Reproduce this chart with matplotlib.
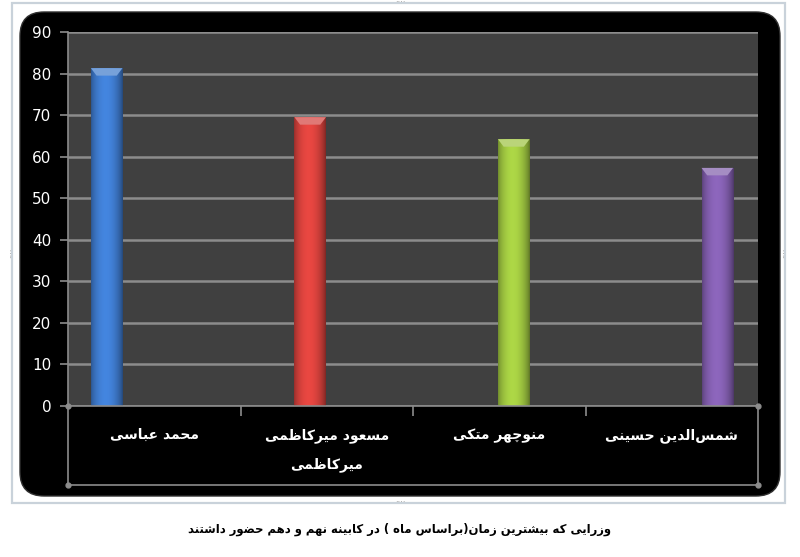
import numpy as np
import matplotlib
matplotlib.use('Agg')
import matplotlib.pyplot as plt
from matplotlib.patches import FancyBboxPatch, Rectangle, Polygon
from matplotlib.colors import to_rgb

# data (months in office)
ministers = ['محمد عباسی', 'مسعود میرکاظمی\nمیرکاظمی', 'منوچهر متکی', 'شمس\u200cالدین حسینی']
months = [81.3, 69.5, 64.2, 57.3]
bar_colors = ['#3d78c9', '#d2403b', '#9cc23f', '#7f5caa']
yticks = [0, 10, 20, 30, 40, 50, 60, 70, 80, 90]
title = 'وزرایی که بیشترین زمان(براساس ماه ) در کابینه نهم و دهم حضور داشتند'


def dual(s):
    return (s, s + 1, s + 2, s + 3)


def right(s):
    return (s, s + 1, None, None)


# presentation forms: isolated, final, initial, medial
FORMS = {
    '\u0627': right(0xFE8D), '\u0628': dual(0xFE8F), '\u062A': dual(0xFE95),
    '\u062B': dual(0xFE99), '\u062C': dual(0xFE9D), '\u062D': dual(0xFEA1),
    '\u062E': dual(0xFEA5), '\u062F': right(0xFEA9), '\u0630': right(0xFEAB),
    '\u0631': right(0xFEAD), '\u0632': right(0xFEAF), '\u0633': dual(0xFEB1),
    '\u0634': dual(0xFEB5), '\u0635': dual(0xFEB9), '\u0636': dual(0xFEBD),
    '\u0637': dual(0xFEC1), '\u0638': dual(0xFEC5), '\u0639': dual(0xFEC9),
    '\u063A': dual(0xFECD), '\u0641': dual(0xFED1), '\u0642': dual(0xFED5),
    '\u0644': dual(0xFEDD), '\u0645': dual(0xFEE1), '\u0646': dual(0xFEE5),
    '\u0647': dual(0xFEE9), '\u0648': right(0xFEED), '\u064A': dual(0xFEF1),
    '\u067E': dual(0xFB56), '\u0686': dual(0xFB7A), '\u0698': right(0xFB8A),
    '\u06A9': dual(0xFB8E), '\u06AF': dual(0xFB92), '\u06CC': dual(0xFBFC),
}


def shape_line(text):
    '''
    join the persian letters and put them in visual (left to right) order
    '''
    res = []
    i = 0
    n = len(text)
    while i < n:
        c = text[i]
        f = FORMS.get(c)
        if f is None:
            res.append(c)
            i += 1
            continue
        pf = FORMS.get(text[i - 1]) if i > 0 else None
        join_prev = pf is not None and pf[2] is not None
        if c == '\u0644' and i + 1 < n and text[i + 1] == '\u0627':
            res.append(chr(0xFEFC if join_prev else 0xFEFB))
            i += 2
            continue
        nf = FORMS.get(text[i + 1]) if i + 1 < n else None
        join_next = f[2] is not None and nf is not None
        if join_prev and join_next:
            code = f[3]
        elif join_prev:
            code = f[1]
        elif join_next:
            code = f[2]
        else:
            code = f[0]
        res.append(chr(code))
        i += 1
    vis = ''.join(reversed(res)).replace('\u200c', '')
    return vis.translate(str.maketrans('()', ')('))


def shape(text):
    return '\n'.join(shape_line(t) for t in text.split('\n'))


W, H = 800, 557
fig = plt.figure(figsize=(W / 100, H / 100), dpi=100)
fig.patch.set_facecolor('white')


def fx(px):
    return px / W


def fy(py):
    return 1 - py / H


# selection frame and black chart area (behind the axes)
fig.patches.append(Rectangle((fx(12), fy(503)), fx(785) - fx(12), fy(3) - fy(503),
                             transform=fig.transFigure, fill=False,
                             edgecolor='#c9d2da', linewidth=1.6, zorder=-3))
fig.patches.append(FancyBboxPatch((fx(20), fy(496)), fx(780) - fx(20), fy(12) - fy(496),
                                  boxstyle='round,pad=0,rounding_size=0.03',
                                  mutation_aspect=W / H,
                                  transform=fig.transFigure, facecolor='black',
                                  edgecolor='#303030', linewidth=1, zorder=-2))
for hx, hy in [(400, 3), (400, 503), (12, 253), (785, 253)]:
    fig.text(fx(hx), fy(hy), '····', ha='center', va='center', fontsize=6,
             color='#8a8a8a', rotation=0 if hy in (3, 503) else 90)

grid_c = '#8c8c8c'

ax = fig.add_axes([fx(68), fy(406), fx(758) - fx(68), fy(32) - fy(406)])
ax.set_facecolor('#404040')
ax.set_ylim(0, 90)
ax.set_xlim(-0.19, 3.2)
ax.set_yticks(yticks)
ax.set_yticklabels([str(v) for v in yticks], color='white', fontsize=11)
ax.yaxis.grid(True, color=grid_c, linewidth=1.8)
ax.set_axisbelow(True)
ax.tick_params(axis='y', length=6, width=1.2, color=grid_c, pad=6)
ax.tick_params(axis='x', bottom=False, labelbottom=False)
for s in ['top', 'right', 'bottom']:
    ax.spines[s].set_visible(False)
ax.spines['left'].set_color(grid_c)
ax.spines['left'].set_linewidth(1.2)

x = np.arange(len(months))
bars = ax.bar(x, months, width=0.155, color=bar_colors, zorder=3)

# cylinder-like shading and bevelled top
prof = np.linspace(0, 1, 60)
shade = 0.72 + 0.45 * np.sin(np.pi * prof) ** 0.7 - 0.12 * prof
for b, c in zip(bars, bar_colors):
    rgb = np.array(to_rgb(c))
    img = np.clip(rgb[None, None, :] * shade[None, :, None], 0, 1)
    x0, w, h = b.get_x(), b.get_width(), b.get_height()
    im = ax.imshow(img, extent=[x0, x0 + w, 0, h], aspect='auto', zorder=4,
                   interpolation='bilinear')
    im.set_clip_path(b)
    light = np.clip(rgb + (1 - rgb) * 0.3, 0, 1)
    cap = Polygon([(x0, h), (x0 + w, h), (x0 + w * 0.82, h - 1.8), (x0 + w * 0.18, h - 1.8)],
                  closed=True, facecolor=light, edgecolor='none', zorder=5)
    ax.add_patch(cap)
ax.set_xlim(-0.19, 3.2)
ax.set_ylim(0, 90)

# category table under the plot
tx = fig.add_axes([fx(68), fy(485), fx(758) - fx(68), fy(406) - fy(485)])
tx.set_xlim(0, len(ministers))
tx.set_ylim(0, 1)
tx.patch.set_alpha(0)
for s in tx.spines.values():
    s.set_color(grid_c)
    s.set_linewidth(1.2)
tx.set_yticks([])
tx.set_xticks(range(1, len(ministers)))
tx.tick_params(axis='x', bottom=False, top=True, direction='in', length=7,
               width=1.2, color=grid_c, labelbottom=False)
tx.plot([0, 0, len(ministers), len(ministers)], [0, 1, 0, 1], 'o', color=grid_c,
        markersize=3.5, clip_on=False)
for i, name in enumerate(ministers):
    tx.text(i + 0.5, 0.72, shape(name), ha='center', va='top', color='white',
            fontsize=10, fontweight='bold', family='DejaVu Sans', linespacing=2.3)

fig.text(0.5, fy(529), shape(title), ha='center', va='center', color='black',
         fontsize=8.4, fontweight='bold', family='DejaVu Sans')

fig.savefig('out.png', dpi=100, facecolor='white')
